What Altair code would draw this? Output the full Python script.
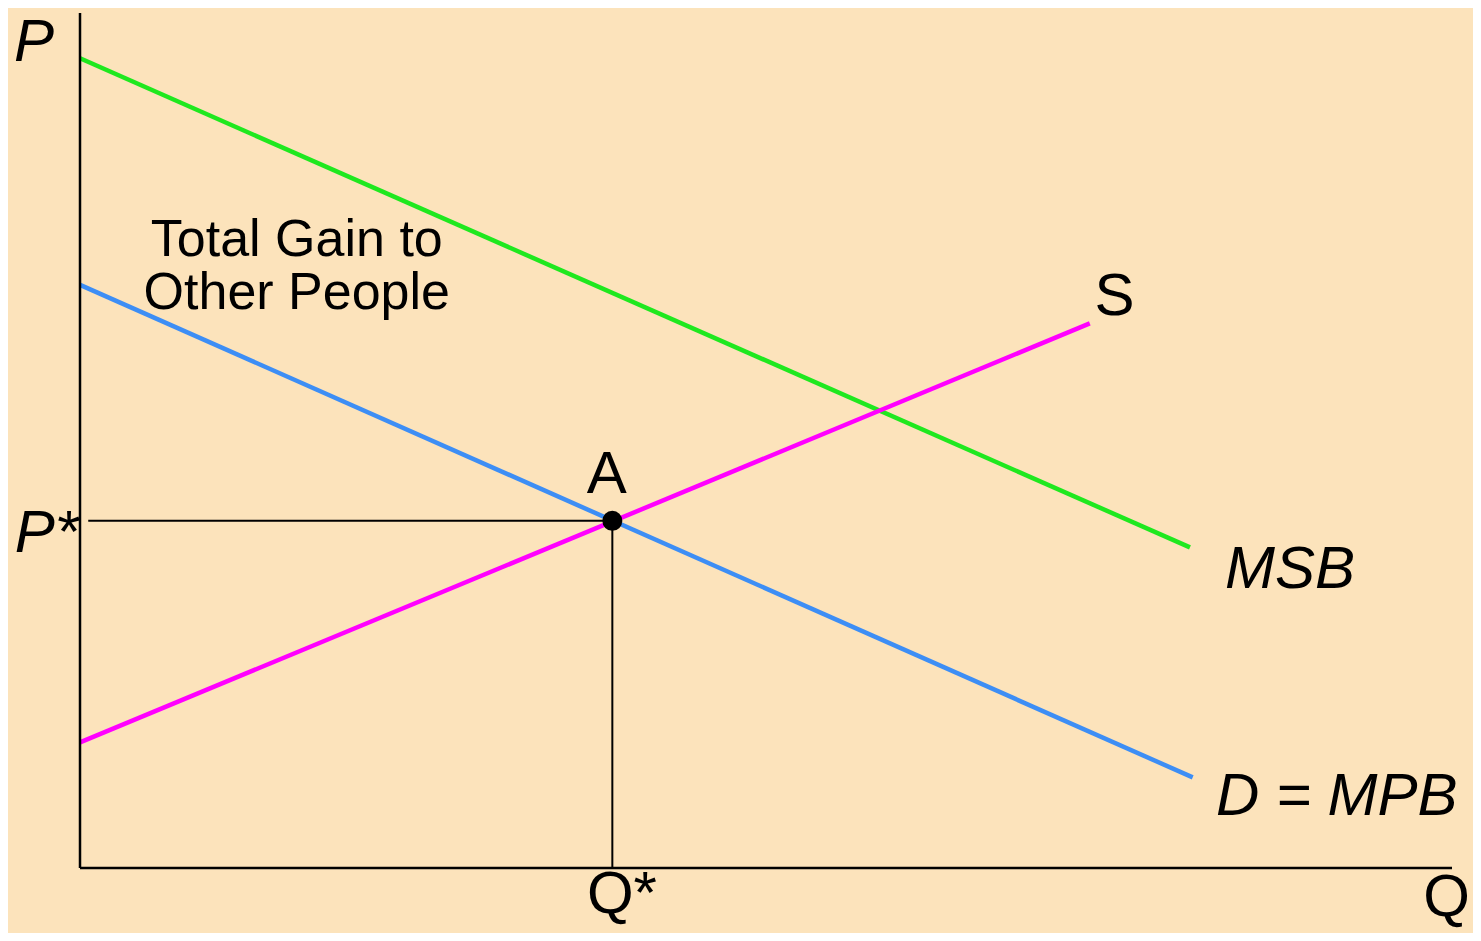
import altair as alt
import pandas as pd

# Curves (Q, P) endpoints in economic units
curve_names = ["MSB", "MSB", "D", "D", "S", "S"]
curve_q = [0, 80.9, 0, 81.1, 0, 73.6]
curve_p = [94.7, 37.5, 68.2, 10.6, 14.7, 63.7]

# Equilibrium
q_star = 38.8
p_star = 40.6

# Labels
italic_text = ["P", "P*", "MSB", "D = MPB"]
italic_q = [-3.35, -2.44, 88.2, 91.6]
italic_p = [94.4, 37.0, 32.7, 6.2]

regular_text = ["Q*", "Q", "S", "A"]
regular_q = [39.5, 99.6, 75.4, 38.4]
regular_p = [-5.3, -5.6, 64.7, 43.9]

note_text = ["Total Gain to", "Other People"]
note_q = [15.8, 15.8]
note_p = [71.6, 65.4]

BG = "#FCE3BB"
FONT = "Liberation Sans"

xs = alt.Scale(domain=[0, 100], nice=False, zero=False)
ys = alt.Scale(domain=[0, 100], nice=False, zero=False)

curves = pd.DataFrame({"curve": curve_names, "q": curve_q, "p": curve_p})
line_layer = alt.Chart(curves).mark_line(strokeWidth=4.5, clip=False).encode(
    x=alt.X("q:Q", scale=xs, axis=None),
    y=alt.Y("p:Q", scale=ys, axis=None),
    color=alt.Color("curve:N", scale=alt.Scale(domain=["MSB", "D", "S"],
                                               range=["#1FE81F", "#3D8EF5", "#FF00FF"]),
                    legend=None),
    detail="curve:N",
)

axes = pd.DataFrame({"q": [0, 0], "p": [0, 0], "q2": [0, 100], "p2": [100, 0]})
axis_layer = alt.Chart(axes).mark_rule(color="black", strokeWidth=2.5, clip=False).encode(
    x=alt.X("q:Q", scale=xs), y=alt.Y("p:Q", scale=ys), x2="q2:Q", y2="p2:Q"
)

guides = pd.DataFrame({"q": [0.6, q_star], "p": [p_star, 0], "q2": [q_star, q_star], "p2": [p_star, p_star]})
guide_layer = alt.Chart(guides).mark_rule(color="black", strokeWidth=2, clip=False).encode(
    x=alt.X("q:Q", scale=xs), y=alt.Y("p:Q", scale=ys), x2="q2:Q", y2="p2:Q"
)

pt = pd.DataFrame({"q": [q_star], "p": [p_star]})
point_layer = alt.Chart(pt).mark_circle(size=400, color="black", opacity=1).encode(
    x=alt.X("q:Q", scale=xs), y=alt.Y("p:Q", scale=ys)
)

it = pd.DataFrame({"t": italic_text, "q": italic_q, "p": italic_p})
italic_layer = alt.Chart(it).mark_text(font=FONT, fontSize=60, fontStyle="italic",
                                       align="center", baseline="alphabetic",
                                       color="black", clip=False).encode(
    x=alt.X("q:Q", scale=xs), y=alt.Y("p:Q", scale=ys), text="t:N"
)

rg = pd.DataFrame({"t": regular_text, "q": regular_q, "p": regular_p})
regular_layer = alt.Chart(rg).mark_text(font=FONT, fontSize=60,
                                        align="center", baseline="alphabetic",
                                        color="black", clip=False).encode(
    x=alt.X("q:Q", scale=xs), y=alt.Y("p:Q", scale=ys), text="t:N"
)

nt = pd.DataFrame({"t": note_text, "q": note_q, "p": note_p})
note_layer = alt.Chart(nt).mark_text(font=FONT, fontSize=52,
                                     align="center", baseline="alphabetic",
                                     color="black", clip=False).encode(
    x=alt.X("q:Q", scale=xs), y=alt.Y("p:Q", scale=ys), text="t:N"
)

chart = alt.layer(
    line_layer, axis_layer, guide_layer, point_layer, italic_layer, regular_layer, note_layer
).properties(
    width=1372, height=855,
    autosize=alt.AutoSizeParams(type="none"),
    padding={"left": 72, "top": 5, "right": 21, "bottom": 65},
    background=BG,
).configure_view(stroke=None, fill=BG)

chart.save("out.html", embed_options={"renderer": "svg", "actions": False})
